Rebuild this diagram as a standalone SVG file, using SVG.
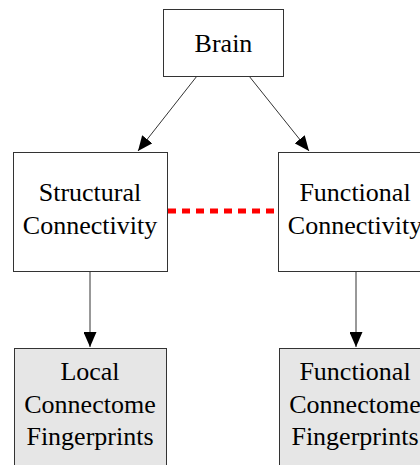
<svg xmlns="http://www.w3.org/2000/svg" width="420" height="465" viewBox="0 0 420 465">
<defs>
<marker id="arr" viewBox="0 0 15 13" refX="15" refY="6.5" markerWidth="15" markerHeight="13" markerUnits="userSpaceOnUse" orient="auto">
<path d="M0,0 L15,6.5 L0,13 Z" fill="#000"/>
</marker>
<style>
.box{fill:#fff;stroke:#333;stroke-width:1}
.leaf{fill:#e6e6e6;stroke:#333;stroke-width:1}
text{font-family:"Liberation Serif",Tinos,"Times New Roman",Times,"DejaVu Serif",serif;font-size:26px;fill:#000;text-anchor:middle}
.edge{stroke:#333;stroke-width:1;fill:none;marker-end:url(#arr)}
.link{stroke:#f00;stroke-width:5;stroke-dasharray:8 6;fill:none}
</style>
</defs>
<g id="connectors">
<line class="edge" x1="197" y1="76" x2="138" y2="151"/>
<line class="edge" x1="249" y1="76" x2="309" y2="151"/>
<line class="link" x1="168" y1="211" x2="278" y2="211"/>
<line class="edge" x1="90" y1="271" x2="90" y2="347"/>
<line class="edge" x1="356" y1="271" x2="356" y2="347"/>
</g>
<g id="brain">
<rect class="box" x="163.5" y="9.5" width="120" height="67"/>
<text x="223.5" y="52">Brain</text>
</g>
<g id="structural">
<rect class="box" x="13.5" y="152.5" width="154" height="119"/>
<text x="90" y="201">Structural</text>
<text x="90" y="234">Connectivity</text>
</g>
<g id="functional">
<rect class="box" x="278.5" y="152.5" width="155" height="119"/>
<text x="355" y="201">Functional</text>
<text x="355" y="234">Connectivity</text>
</g>
<g id="local">
<rect class="leaf" x="14.5" y="348.5" width="152" height="130"/>
<text x="90" y="380">Local</text>
<text x="90" y="413">Connectome</text>
<text x="90" y="445">Fingerprints</text>
</g>
<g id="functional-fp">
<rect class="leaf" x="279.5" y="348.5" width="154" height="130"/>
<text x="355" y="380">Functional</text>
<text x="355" y="413">Connectome</text>
<text x="355" y="445">Fingerprints</text>
</g>
</svg>
